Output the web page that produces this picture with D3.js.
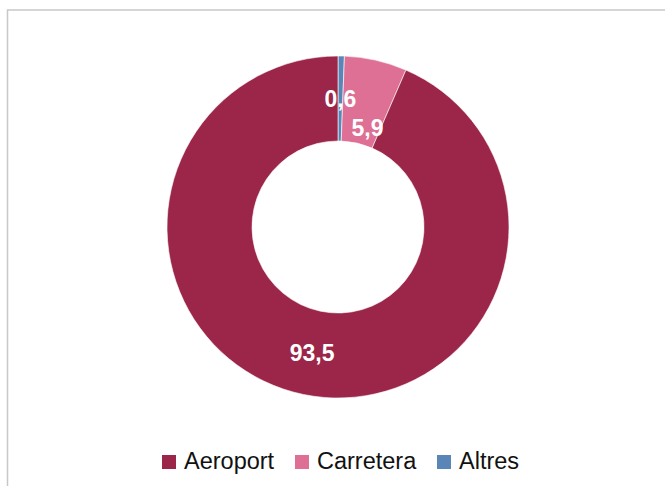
<!DOCTYPE html>
<html>
<head>
<meta charset="utf-8">
<script src="https://cdn.jsdelivr.net/npm/d3@7"></script>
<style>
  body { margin: 0; background: white; }
  svg { display: block; font-family: "Liberation Sans", Arial, sans-serif; }
</style>
</head>
<body>
<svg id="chart"></svg>
<script>
// slice order as drawn clockwise from 12 o'clock
let categories = ['Altres', 'Carretera', 'Aeroport'];
let values = [0.6, 5.9, 93.5];
let labels = ['0,6', '5,9', '93,5'];
let legendOrder = ['Aeroport', 'Carretera', 'Altres'];

let colors = { Aeroport: '#9b2649', Carretera: '#dd7094', Altres: '#5a86b7' };
// label radius per slice (Excel nudged the 5,9 label inwards)
let labelRadius = { Altres: 128, Carretera: 104, Aeroport: 128 };
let labelAngleShift = { Altres: 0, Carretera: 0.065, Aeroport: 0 };

function createGraph() {
  let width = 665;
  let height = 486;
  let cx = 338, cy = 227;
  let outer = 171, inner = 86;

  let svg = d3.select('#chart')
    .attr('width', width)
    .attr('height', height);
  svg.selectAll('*').remove();

  // chart frame (right and bottom edges fall outside the picture)
  svg.append('rect')
    .attr('x', 7.5)
    .attr('y', 10)
    .attr('width', width + 20)
    .attr('height', height + 20)
    .attr('fill', 'none')
    .attr('stroke', '#c8c8c8')
    .attr('stroke-width', 1.5);

  let data = categories.map((c, i) => ({ cat: c, value: values[i], label: labels[i] }));

  let pie = d3.pie().sort(null).value(d => d.value);
  let arc = d3.arc().innerRadius(inner).outerRadius(outer);

  let g = svg.append('g').attr('transform', `translate(${cx},${cy})`);
  let arcs = pie(data);

  g.selectAll('path')
    .data(arcs)
    .enter()
    .append('path')
    .attr('d', arc)
    .attr('fill', d => colors[d.data.cat])
    .attr('stroke', 'white')
    .attr('stroke-width', 0.6);

  g.selectAll('text.lbl')
    .data(arcs)
    .enter()
    .append('text')
    .attr('class', 'lbl')
    .attr('transform', d => {
      let a = (d.startAngle + d.endAngle) / 2 + labelAngleShift[d.data.cat];
      let r = labelRadius[d.data.cat];
      return `translate(${r * Math.sin(a)},${-r * Math.cos(a)})`;
    })
    .attr('text-anchor', 'middle')
    .attr('dy', '0.36em')
    .style('font-size', '23px')
    .style('font-weight', 'bold')
    .style('fill', 'white')
    .text(d => d.data.label);

  // legend
  let legendX = [162, 295, 437];
  let legend = svg.append('g');
  legendOrder.forEach((c, i) => {
    legend.append('rect')
      .attr('x', legendX[i])
      .attr('y', 455)
      .attr('width', 14)
      .attr('height', 14)
      .attr('fill', colors[c]);
    legend.append('text')
      .attr('x', legendX[i] + 22)
      .attr('y', 469)
      .style('font-size', '23.5px')
      .style('fill', '#111')
      .text(c);
  });
}

createGraph();
</script>
</body>
</html>
